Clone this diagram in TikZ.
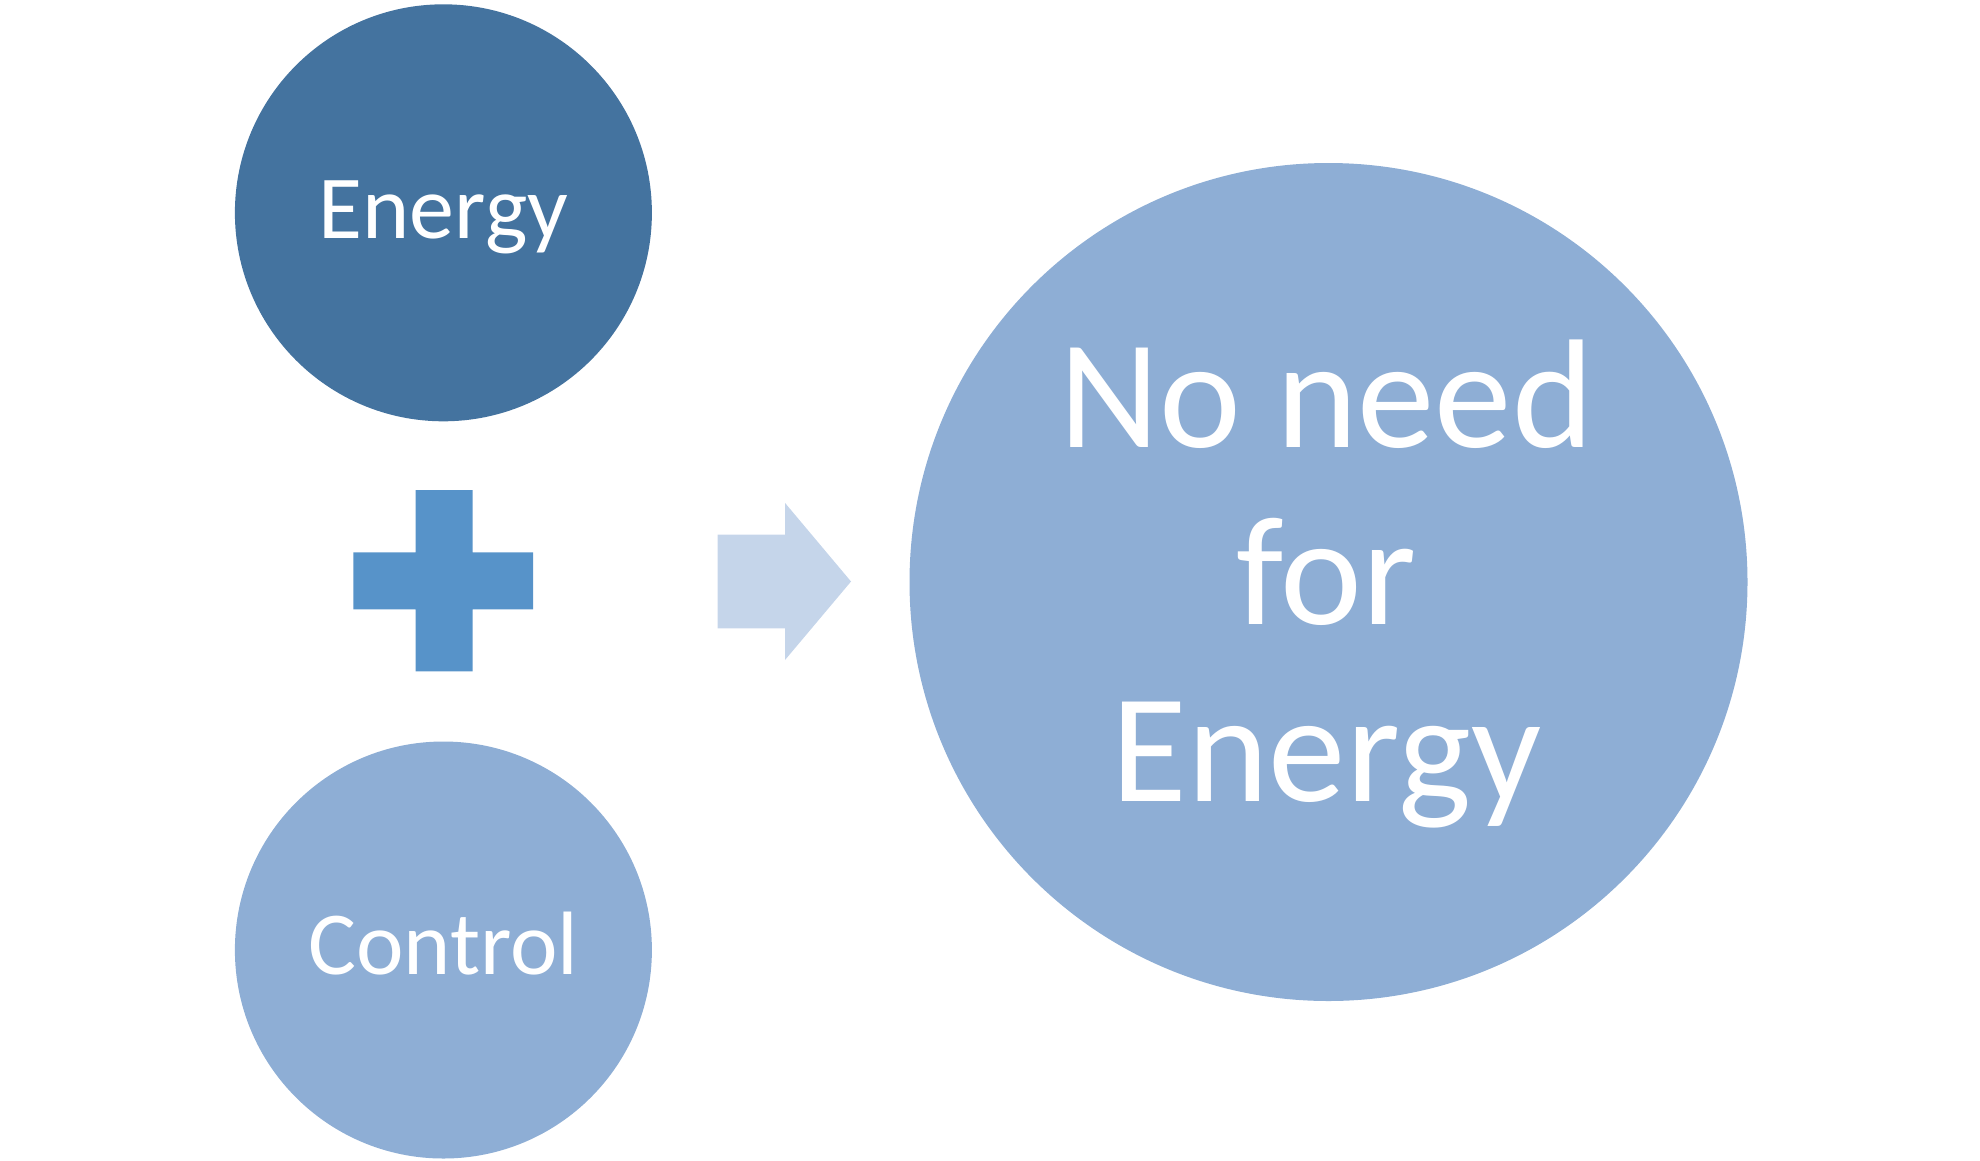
\documentclass[tikz,border=0pt]{standalone}
\usepackage{fontspec}
\setmainfont{Carlito}
\definecolor{darkblue}{HTML}{44739F}
\definecolor{midblue}{HTML}{8EAED5}
\definecolor{plusblue}{HTML}{5793C9}
\definecolor{arrowblue}{HTML}{C5D5EA}
\begin{document}
\begin{tikzpicture}[x=1pt,y=-1pt,
  bubble/.style={circle,inner sep=0pt},
  smalltext/.style={text=white,font=\fontsize{90}{108}\selectfont},
  bigtext/.style={text=white,font=\fontsize{155}{177}\selectfont,align=center}]
\useasboundingbox (0,0) rectangle (1980,1160);
\node[bubble,fill=darkblue,minimum size=417pt] (energy) at (443.4,212.8) {};
\node[bubble,fill=midblue,minimum size=417pt] (control) at (443.4,950) {};
\node[bubble,fill=midblue,minimum size=838pt] (result) at (1328.5,582) {};
\node[smalltext] (energytext) at ([yshift=-5pt]energy.center) {Energy};
\node[smalltext] (controltext) at ([yshift=6pt]control.center) {Control};
\node[bigtext] (resulttext) at ([xshift=-2pt,yshift=-2pt]result.center) {No need\\for\\Energy};
% plus sign
\fill[plusblue] (415.5,490.2) -- (472.5,490.2) -- (472.5,552.3) -- (533,552.3) -- (533,609.3)
  -- (472.5,609.3) -- (472.5,671.4) -- (415.5,671.4) -- (415.5,609.3) -- (353.4,609.3)
  -- (353.4,552.3) -- (415.5,552.3) -- cycle;
% arrow
\fill[arrowblue] (717.5,534.6) -- (785,534.6) -- (785,502.9) -- (851,581.5)
  -- (785,660) -- (785,628.3) -- (717.5,628.3) -- cycle;
\end{tikzpicture}
\end{document}
